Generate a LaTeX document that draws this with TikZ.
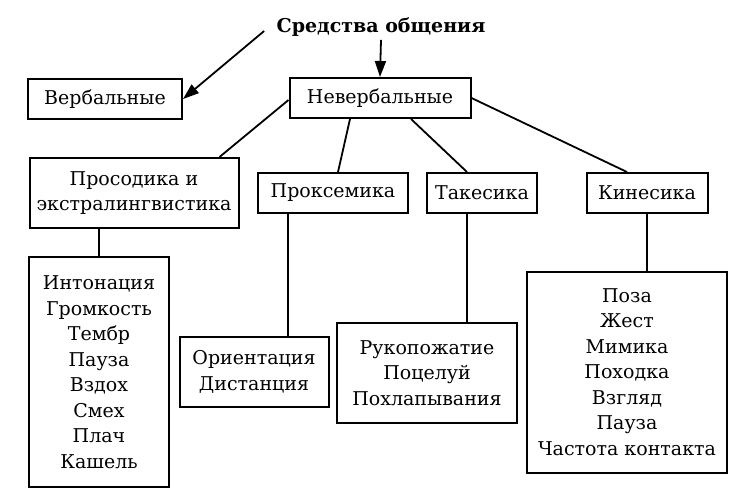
\documentclass[tikz,border=0pt]{standalone}
\usepackage{fontspec}
\setmainfont{DejaVu Serif}
\usetikzlibrary{arrows.meta}

\begin{document}
\begin{tikzpicture}[x=1pt, y=-1pt,
    box/.style={draw, line width=2pt, align=center, inner sep=0pt,
        font=\fontsize{19}{25.5}\selectfont},
    link/.style={line width=1.8pt},
    pointer/.style={line width=1.8pt, -{Triangle[length=16pt, width=11pt]}}]

\useasboundingbox (0,0) rectangle (749,496);

\node[font=\bfseries\fontsize{19}{22}\selectfont] (title) at (381,27) {Средства общения};

\node[box, minimum width=154, minimum height=40] (verb) at (105,99) {Вербальные};
\node[box, minimum width=181, minimum height=40] (neverb) at (380,98) {Невербальные};

\node[box, minimum width=209, minimum height=70] (prosod) at (134,193) {Просодика и\\экстралингвистика};
\node[box, minimum width=150, minimum height=40] (proks) at (333,193) {Проксемика};
\node[box, minimum width=110, minimum height=40] (takes) at (482,193) {Такесика};
\node[box, minimum width=121, minimum height=40] (kines) at (647,193) {Кинесика};

\node[box, minimum width=140, minimum height=230] (inton) at (99,372)
    {Интонация\\Громкость\\Тембр\\Пауза\\Вздох\\Смех\\Плач\\Кашель};
\node[box, minimum width=149, minimum height=70] (orient) at (254,372)
    {Ориентация\\Дистанция};
\node[box, minimum width=180, minimum height=100] (ruko) at (427,373)
    {Рукопожатие\\Поцелуй\\Похлапывания};
\node[box, minimum width=200, minimum height=201] (poza) at (627,372)
    {Поза\\Жест\\Мимика\\Походка\\Взгляд\\Пауза\\Частота контакта};

\draw[pointer] (title.south) -- (neverb.north);
\draw[pointer] ([xshift=-9pt, yshift=-4pt]title.west) -- (verb.east);

\draw[link] ([yshift=-2pt]neverb.west) -- ([xshift=-20pt]prosod.north east);
\draw[link] ([xshift=-30pt]neverb.south) -- ([xshift=5pt]proks.north);
\draw[link] ([xshift=31pt]neverb.south) -- ([xshift=-15pt]takes.north);
\draw[link] (neverb.east) -- ([xshift=-20pt]kines.north);

\draw[link] (inton.north) -- (inton.north |- prosod.south);
\draw[link] ([xshift=34pt]orient.north) -- ([xshift=34pt]orient.north |- proks.south);
\draw[link] ([xshift=40pt]ruko.north) -- ([xshift=40pt]ruko.north |- takes.south);
\draw[link] (kines.south) -- (kines.south |- poza.north);

\end{tikzpicture}
\end{document}
